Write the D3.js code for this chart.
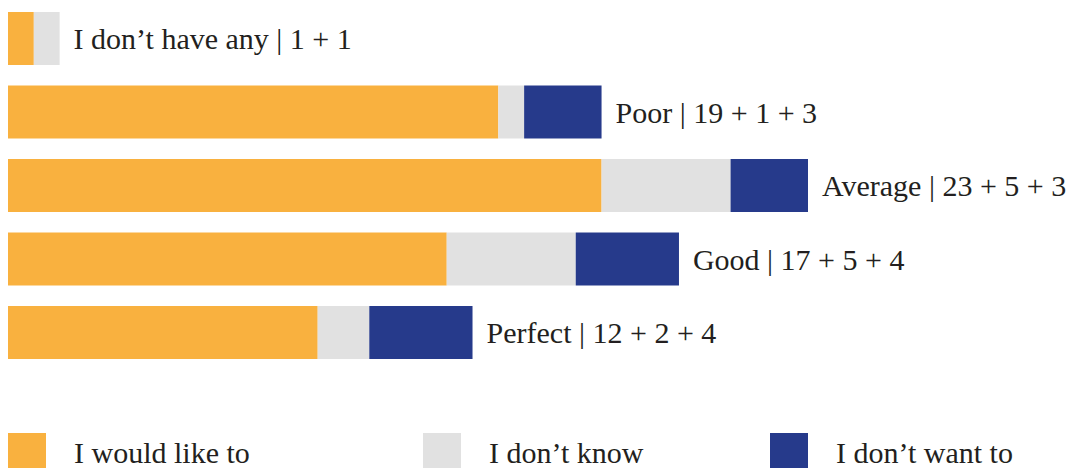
<!DOCTYPE html>
<html><head><meta charset="utf-8">
<script src="https://cdn.jsdelivr.net/npm/d3@7"></script>
<style>body{margin:0;background:#fff}svg{display:block}</style>
</head><body>
<svg id="c" width="1073" height="468"></svg>
<script>
const categories = ["I don\u2019t have any", "Poor", "Average", "Good", "Perfect"];
const wouldLike = [1, 19, 23, 17, 12];
const dontKnow = [1, 1, 5, 5, 2];
const dontWant = [0, 3, 3, 4, 4];
const seriesNames = ["I would like to", "I don\u2019t know", "I don\u2019t want to"];
const colors = ["#F9B13F", "#E1E1E1", "#263A8B"];

const svg = d3.select("#c");
const font = "'Liberation Serif', 'DejaVu Serif', serif";
const rows = categories.map((c, i) => ({cat: c, a: wouldLike[i], b: dontKnow[i], c: dontWant[i]}));
const stack = d3.stack().keys(["a", "b", "c"])(rows);

const x = d3.scaleLinear().domain([0, 31]).range([8, 808]);
const y = d3.scaleBand().domain(categories).range([12, 359]).paddingInner(0.279).paddingOuter(0);

svg.append("g").selectAll("g").data(stack).join("g")
  .attr("fill", (d, i) => colors[i])
  .selectAll("rect").data(d => d.filter(e => e[1] > e[0])).join("rect")
  .attr("x", d => x(d[0]))
  .attr("width", d => x(d[1]) - x(d[0]))
  .attr("y", d => y(d.data.cat))
  .attr("height", y.bandwidth());

svg.append("g").selectAll("text").data(rows).join("text")
  .attr("x", d => x(d.a + d.b + d.c) + 14)
  .attr("y", d => y(d.cat) + y.bandwidth() / 2)
  .attr("dy", "0.36em")
  .attr("font-family", font).attr("font-size", 30).attr("fill", "#231f20")
  .text(d => d.cat + " | " + [d.a, d.b, d.c].filter(v => v > 0).join(" + "));

const legX = [8, 423, 770];
const lg = svg.append("g").selectAll("g").data(seriesNames).join("g")
  .attr("transform", (d, i) => `translate(${legX[i]},433)`);
lg.append("rect").attr("width", 38).attr("height", 40).attr("fill", (d, i) => colors[i]);
lg.append("text").attr("x", 66).attr("y", 30)
  .attr("font-family", font).attr("font-size", 30).attr("fill", "#231f20")
  .text(d => d);
</script>
</body></html>
